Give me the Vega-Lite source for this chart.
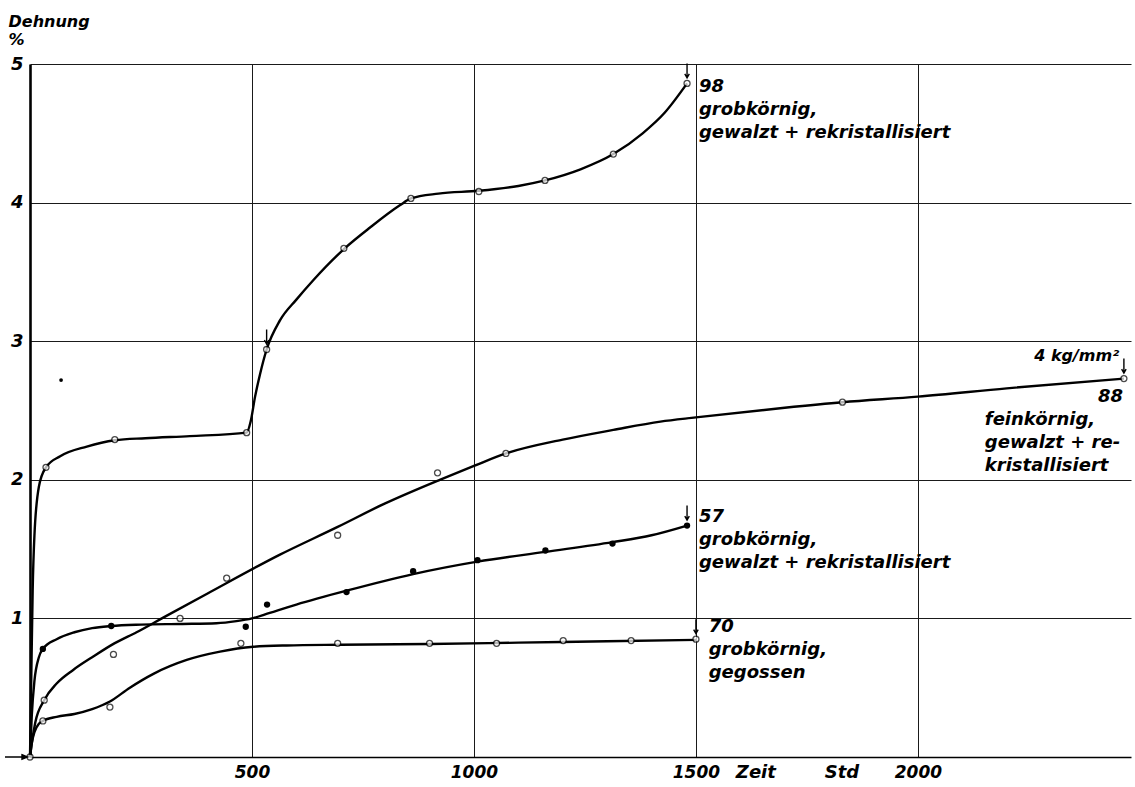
{
  "$schema": "https://vega.github.io/schema/vega-lite/v6.json",
  "autosize": "none",
  "width": 1101,
  "height": 693,
  "padding": {"left": 30, "top": 64, "right": 4, "bottom": 30},
  "background": "white",
  "config": {
    "view": {"stroke": null},
    "font": "DejaVu Sans",
    "axis": {
      "labelFont": "DejaVu Sans",
      "labelFontStyle": "italic",
      "labelFontWeight": "bold",
      "labelColor": "black",
      "titleFont": "DejaVu Sans",
      "titleFontStyle": "italic",
      "titleFontWeight": "bold",
      "titleColor": "black",
      "gridColor": "#1a1a1a",
      "gridWidth": 1,
      "gridOpacity": 1,
      "ticks": false,
      "domainColor": "black"
    }
  },
  "datasets": {
    "kurven": [
      {"probe": "98", "t": 0, "d": 0}, {"probe": "98", "t": 3, "d": 0.6}, {"probe": "98", "t": 6, "d": 1.2},
      {"probe": "98", "t": 10, "d": 1.6}, {"probe": "98", "t": 20, "d": 1.95}, {"probe": "98", "t": 36, "d": 2.09},
      {"probe": "98", "t": 68, "d": 2.17}, {"probe": "98", "t": 128, "d": 2.24}, {"probe": "98", "t": 191, "d": 2.285},
      {"probe": "98", "t": 260, "d": 2.3}, {"probe": "98", "t": 360, "d": 2.315}, {"probe": "98", "t": 488, "d": 2.34},
      {"probe": "98", "t": 497, "d": 2.42}, {"probe": "98", "t": 507, "d": 2.6}, {"probe": "98", "t": 518, "d": 2.76},
      {"probe": "98", "t": 533, "d": 2.94}, {"probe": "98", "t": 563, "d": 3.15}, {"probe": "98", "t": 600, "d": 3.3},
      {"probe": "98", "t": 638, "d": 3.44}, {"probe": "98", "t": 709, "d": 3.67}, {"probe": "98", "t": 766, "d": 3.82},
      {"probe": "98", "t": 833, "d": 3.98}, {"probe": "98", "t": 858, "d": 4.03},
      {"probe": "98", "t": 920, "d": 4.065}, {"probe": "98", "t": 1011, "d": 4.085}, {"probe": "98", "t": 1100, "d": 4.12},
      {"probe": "98", "t": 1160, "d": 4.16}, {"probe": "98", "t": 1240, "d": 4.24}, {"probe": "98", "t": 1314, "d": 4.35},
      {"probe": "98", "t": 1380, "d": 4.5}, {"probe": "98", "t": 1430, "d": 4.65}, {"probe": "98", "t": 1480, "d": 4.86},

      {"probe": "57", "t": 0, "d": 0}, {"probe": "57", "t": 4, "d": 0.3}, {"probe": "57", "t": 10, "d": 0.55},
      {"probe": "57", "t": 20, "d": 0.72}, {"probe": "57", "t": 29, "d": 0.78}, {"probe": "57", "t": 60, "d": 0.85},
      {"probe": "57", "t": 100, "d": 0.9}, {"probe": "57", "t": 140, "d": 0.93}, {"probe": "57", "t": 183, "d": 0.945},
      {"probe": "57", "t": 250, "d": 0.955}, {"probe": "57", "t": 338, "d": 0.96}, {"probe": "57", "t": 420, "d": 0.965},
      {"probe": "57", "t": 465, "d": 0.98}, {"probe": "57", "t": 500, "d": 1.0}, {"probe": "57", "t": 540, "d": 1.04},
      {"probe": "57", "t": 600, "d": 1.1}, {"probe": "57", "t": 713, "d": 1.2}, {"probe": "57", "t": 863, "d": 1.32},
      {"probe": "57", "t": 1008, "d": 1.41}, {"probe": "57", "t": 1161, "d": 1.48}, {"probe": "57", "t": 1312, "d": 1.55},
      {"probe": "57", "t": 1400, "d": 1.6}, {"probe": "57", "t": 1480, "d": 1.67},

      {"probe": "88", "t": 0, "d": 0}, {"probe": "88", "t": 5, "d": 0.12}, {"probe": "88", "t": 12, "d": 0.25},
      {"probe": "88", "t": 32, "d": 0.41}, {"probe": "88", "t": 60, "d": 0.53}, {"probe": "88", "t": 98, "d": 0.63},
      {"probe": "88", "t": 140, "d": 0.72}, {"probe": "88", "t": 190, "d": 0.82}, {"probe": "88", "t": 240, "d": 0.9},
      {"probe": "88", "t": 297, "d": 1.0}, {"probe": "88", "t": 400, "d": 1.18}, {"probe": "88", "t": 563, "d": 1.46},
      {"probe": "88", "t": 693, "d": 1.66}, {"probe": "88", "t": 800, "d": 1.83}, {"probe": "88", "t": 923, "d": 2.0},
      {"probe": "88", "t": 1000, "d": 2.1}, {"probe": "88", "t": 1072, "d": 2.19}, {"probe": "88", "t": 1200, "d": 2.29},
      {"probe": "88", "t": 1314, "d": 2.36}, {"probe": "88", "t": 1420, "d": 2.42}, {"probe": "88", "t": 1500, "d": 2.45},
      {"probe": "88", "t": 1700, "d": 2.52}, {"probe": "88", "t": 1830, "d": 2.56}, {"probe": "88", "t": 2000, "d": 2.6},
      {"probe": "88", "t": 2200, "d": 2.66}, {"probe": "88", "t": 2464, "d": 2.73},

      {"probe": "70", "t": 0, "d": 0}, {"probe": "70", "t": 4, "d": 0.1}, {"probe": "70", "t": 10, "d": 0.18},
      {"probe": "70", "t": 20, "d": 0.24}, {"probe": "70", "t": 29, "d": 0.26}, {"probe": "70", "t": 60, "d": 0.29},
      {"probe": "70", "t": 100, "d": 0.31}, {"probe": "70", "t": 140, "d": 0.345}, {"probe": "70", "t": 180, "d": 0.4},
      {"probe": "70", "t": 225, "d": 0.5}, {"probe": "70", "t": 278, "d": 0.6}, {"probe": "70", "t": 353, "d": 0.7},
      {"probe": "70", "t": 428, "d": 0.76}, {"probe": "70", "t": 503, "d": 0.795}, {"probe": "70", "t": 578, "d": 0.805},
      {"probe": "70", "t": 700, "d": 0.81}, {"probe": "70", "t": 900, "d": 0.815}, {"probe": "70", "t": 1100, "d": 0.825},
      {"probe": "70", "t": 1300, "d": 0.835}, {"probe": "70", "t": 1500, "d": 0.845}
    ],
    "messpunkte": [
      {"probe": "98", "t": 0, "d": 0, "art": "offen", "bruch": false},
      {"probe": "98", "t": 36, "d": 2.09, "art": "offen", "bruch": false},
      {"probe": "98", "t": 191, "d": 2.29, "art": "offen", "bruch": false},
      {"probe": "98", "t": 488, "d": 2.34, "art": "offen", "bruch": false},
      {"probe": "98", "t": 533, "d": 2.94, "art": "offen", "bruch": true},
      {"probe": "98", "t": 707, "d": 3.67, "art": "offen", "bruch": false},
      {"probe": "98", "t": 858, "d": 4.03, "art": "offen", "bruch": false},
      {"probe": "98", "t": 1011, "d": 4.08, "art": "offen", "bruch": false},
      {"probe": "98", "t": 1160, "d": 4.16, "art": "offen", "bruch": false},
      {"probe": "98", "t": 1314, "d": 4.35, "art": "offen", "bruch": false},
      {"probe": "98", "t": 1480, "d": 4.86, "art": "offen", "bruch": true},
      {"probe": "57", "t": 29, "d": 0.78, "art": "voll", "bruch": false},
      {"probe": "57", "t": 183, "d": 0.945, "art": "voll", "bruch": false},
      {"probe": "57", "t": 486, "d": 0.94, "art": "voll", "bruch": false},
      {"probe": "57", "t": 534, "d": 1.1, "art": "voll", "bruch": false},
      {"probe": "57", "t": 713, "d": 1.19, "art": "voll", "bruch": false},
      {"probe": "57", "t": 863, "d": 1.34, "art": "voll", "bruch": false},
      {"probe": "57", "t": 1008, "d": 1.42, "art": "voll", "bruch": false},
      {"probe": "57", "t": 1161, "d": 1.49, "art": "voll", "bruch": false},
      {"probe": "57", "t": 1312, "d": 1.54, "art": "voll", "bruch": false},
      {"probe": "57", "t": 1480, "d": 1.67, "art": "voll", "bruch": true},
      {"probe": "88", "t": 32, "d": 0.41, "art": "offen", "bruch": false},
      {"probe": "88", "t": 188, "d": 0.74, "art": "offen", "bruch": false},
      {"probe": "88", "t": 338, "d": 1.0, "art": "offen", "bruch": false},
      {"probe": "88", "t": 443, "d": 1.29, "art": "offen", "bruch": false},
      {"probe": "88", "t": 693, "d": 1.6, "art": "offen", "bruch": false},
      {"probe": "88", "t": 918, "d": 2.05, "art": "offen", "bruch": false},
      {"probe": "88", "t": 1072, "d": 2.19, "art": "offen", "bruch": false},
      {"probe": "88", "t": 1830, "d": 2.56, "art": "offen", "bruch": false},
      {"probe": "88", "t": 2464, "d": 2.73, "art": "offen", "bruch": true},
      {"probe": "70", "t": 29, "d": 0.26, "art": "offen", "bruch": false},
      {"probe": "70", "t": 180, "d": 0.36, "art": "offen", "bruch": false},
      {"probe": "70", "t": 475, "d": 0.82, "art": "offen", "bruch": false},
      {"probe": "70", "t": 693, "d": 0.82, "art": "offen", "bruch": false},
      {"probe": "70", "t": 900, "d": 0.82, "art": "offen", "bruch": false},
      {"probe": "70", "t": 1051, "d": 0.82, "art": "offen", "bruch": false},
      {"probe": "70", "t": 1201, "d": 0.84, "art": "offen", "bruch": false},
      {"probe": "70", "t": 1354, "d": 0.84, "art": "offen", "bruch": false},
      {"probe": "70", "t": 1500, "d": 0.85, "art": "offen", "bruch": true},
      {"probe": "57", "t": 70, "d": 2.72, "art": "klein", "bruch": false}
    ],
    "ursprung": [{"t": 0, "d": 0}],
    "texte_links": [
      {"t": 1500, "d": 4.9, "text": "98\ngrobkörnig,\ngewalzt + rekristallisiert"},
      {"t": 1500, "d": 1.8, "text": "57\ngrobkörnig,\ngewalzt + rekristallisiert"},
      {"t": 1522, "d": 1.0, "text": "70\ngrobkörnig,\ngegossen"},
      {"t": 2144, "d": 2.5, "text": "feinkörnig,\ngewalzt + re-\nkristallisiert"}
    ],
    "texte_rechts": [
      {"t": 2462, "d": 2.66, "text": "88"}
    ],
    "last": [
      {"t": 2262, "d": 2.86, "text": "4 kg/mm²"}
    ],
    "achse": [
      {"t": 1635, "d": 0, "text": "Zeit"},
      {"t": 1829, "d": 0, "text": "Std"}
    ]
  },
  "layer": [
    {
      "data": {"name": "kurven"},
      "mark": {"type": "line", "interpolate": "monotone", "color": "black", "strokeWidth": 2.4, "clip": false},
      "encoding": {
        "x": {
          "field": "t", "type": "quantitative",
          "scale": {"domain": [0, 2480], "nice": false, "zero": true},
          "axis": {
            "values": [500, 1000, 1500, 2000],
            "format": "d",
            "title": null,
            "labelFontSize": 17,
            "labelPadding": 7,
            "domainWidth": 1.6,
            "grid": true
          }
        },
        "y": {
          "field": "d", "type": "quantitative",
          "scale": {"domain": [0, 5], "nice": false},
          "axis": {
            "values": [1, 2, 3, 4, 5],
            "format": "d",
            "title": ["Dehnung", "%"],
            "titleAngle": 0,
            "titleAlign": "left",
            "titleBaseline": "top",
            "titleX": -22,
            "titleY": -51,
            "titleFontSize": 16,
            "titleLineHeight": 18,
            "labelFontSize": 18,
            "labelPadding": 7,
            "domainWidth": 2.6,
            "grid": true
          }
        },
        "detail": {"field": "probe"}
      }
    },
    {
      "data": {"name": "messpunkte"},
      "transform": [{"filter": "datum.art === 'offen'"}],
      "mark": {"type": "point", "shape": "circle", "size": 36, "filled": true, "fill": "white", "stroke": "black", "strokeWidth": 1.3, "clip": false},
      "encoding": {
        "x": {"field": "t", "type": "quantitative"},
        "y": {"field": "d", "type": "quantitative"}
      }
    },
    {
      "data": {"name": "messpunkte"},
      "transform": [{"filter": "datum.art === 'voll'"}],
      "mark": {"type": "point", "shape": "circle", "size": 40, "filled": true, "color": "black", "opacity": 1},
      "encoding": {
        "x": {"field": "t", "type": "quantitative"},
        "y": {"field": "d", "type": "quantitative"}
      }
    },
    {
      "data": {"name": "messpunkte"},
      "transform": [{"filter": "datum.art === 'klein'"}],
      "mark": {"type": "point", "shape": "circle", "size": 14, "filled": true, "color": "black", "opacity": 1},
      "encoding": {
        "x": {"field": "t", "type": "quantitative"},
        "y": {"field": "d", "type": "quantitative"}
      }
    },
    {
      "data": {"name": "messpunkte"},
      "transform": [{"filter": "datum.bruch"}],
      "mark": {"type": "point", "shape": "M0,-4V-1.1M-0.45,-1.9L0,-1.1L0.45,-1.9", "size": 100, "filled": false, "stroke": "black", "strokeWidth": 1.4, "opacity": 1, "clip": false},
      "encoding": {
        "x": {"field": "t", "type": "quantitative"},
        "y": {"field": "d", "type": "quantitative"}
      }
    },
    {
      "data": {"name": "ursprung"},
      "mark": {"type": "point", "shape": "M-5,0H-0.5M-1.6,-0.45L-0.5,0L-1.6,0.45Z", "size": 100, "filled": true, "fill": "black", "stroke": "black", "strokeWidth": 1.4, "opacity": 1, "clip": false},
      "encoding": {
        "x": {"field": "t", "type": "quantitative"},
        "y": {"field": "d", "type": "quantitative"}
      }
    },
    {
      "data": {"name": "texte_links"},
      "mark": {"type": "text", "align": "left", "baseline": "top", "dx": 3, "lineBreak": "\n", "lineHeight": 23, "font": "DejaVu Sans", "fontStyle": "italic", "fontWeight": "bold", "fontSize": 18, "color": "black"},
      "encoding": {
        "x": {"field": "t", "type": "quantitative"},
        "y": {"field": "d", "type": "quantitative"},
        "text": {"field": "text"}
      }
    },
    {
      "data": {"name": "texte_rechts"},
      "mark": {"type": "text", "align": "right", "baseline": "top", "font": "DejaVu Sans", "fontStyle": "italic", "fontWeight": "bold", "fontSize": 18, "color": "black"},
      "encoding": {
        "x": {"field": "t", "type": "quantitative"},
        "y": {"field": "d", "type": "quantitative"},
        "text": {"field": "text"}
      }
    },
    {
      "data": {"name": "last"},
      "mark": {"type": "text", "align": "left", "baseline": "alphabetic", "font": "DejaVu Sans", "fontStyle": "italic", "fontWeight": "bold", "fontSize": 16, "color": "black"},
      "encoding": {
        "x": {"field": "t", "type": "quantitative"},
        "y": {"field": "d", "type": "quantitative"},
        "text": {"field": "text"}
      }
    },
    {
      "data": {"name": "achse"},
      "mark": {"type": "text", "align": "center", "baseline": "top", "dy": 7, "font": "DejaVu Sans", "fontStyle": "italic", "fontWeight": "bold", "fontSize": 18, "color": "black"},
      "encoding": {
        "x": {"field": "t", "type": "quantitative"},
        "y": {"field": "d", "type": "quantitative"},
        "text": {"field": "text"}
      }
    }
  ]
}
